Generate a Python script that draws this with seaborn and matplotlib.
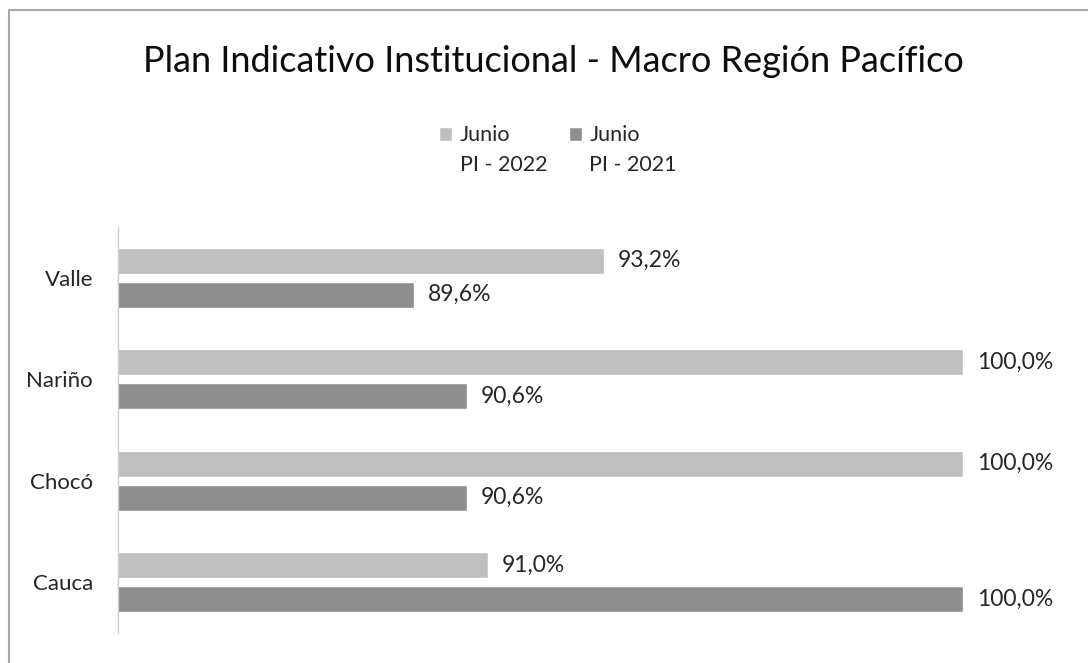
import numpy as np
import pandas as pd
import matplotlib.pyplot as plt
import seaborn as sns
from matplotlib.lines import Line2D

# data
regions = ["Valle", "Nariño", "Chocó", "Cauca"]
pi_2022 = [93.2, 100.0, 100.0, 91.0]
pi_2021 = [89.6, 90.6, 90.6, 100.0]
series_names = ["Junio\nPI - 2022", "Junio\nPI - 2021"]
series_colors = ["#BFBFBF", "#8E8E8E"]

df = pd.DataFrame({
    "region": regions * 2,
    "valor": pi_2022 + pi_2021,
    "serie": [series_names[0]] * len(regions) + [series_names[1]] * len(regions),
})

sns.set_theme(style="white")
plt.rcParams["font.family"] = ["Lato", "DejaVu Sans"]

fig = plt.figure(figsize=(10.88, 6.63), dpi=100)
ax = fig.add_axes([118 / 1088, 1 - 633 / 663, (963 - 118) / 1088, (633 - 227) / 663])

sns.barplot(
    data=df, y="region", x="valor", hue="serie", orient="h",
    hue_order=series_names, palette=series_colors,
    width=0.667, gap=0.235, ax=ax, errorbar=None, saturation=1,
)

ax.set_xlim(84, 100)
ax.set_ylim(3.5, -0.5)
ax.set_xlabel("")
ax.set_ylabel("")
ax.set_xticks([])
ax.tick_params(axis="y", length=0, pad=18, labelsize=16, labelcolor="#262626")
for side in ["top", "right", "bottom"]:
    ax.spines[side].set_visible(False)
ax.spines["left"].set_color("#CDCDCD")
ax.spines["left"].set_linewidth(1.0)

# value labels, comma decimals
for cont, vals in zip(ax.containers, [pi_2022, pi_2021]):
    labs = [f"{v:.1f}%".replace(".", ",") for v in vals]
    ax.bar_label(cont, labels=labs, padding=10, fontsize=16.5, color="#262626", clip_on=False)

# legend at the top
handles, labels = ax.get_legend_handles_labels()
ax.get_legend().remove()
leg = fig.legend(
    handles, labels, loc="center", bbox_to_anchor=(558 / 1088, 1 - 150 / 663),
    ncol=2, frameon=False, fontsize=15.5, handlelength=0.6, handleheight=0.6,
    handletextpad=0.35, columnspacing=1.0, labelcolor="#262626",
)
for t in leg.get_texts():
    t.set_linespacing(1.65)
# square next to the first line of each label
for p in leg.get_patches():
    p.set_y(p.get_y() + 12)

fig.text(553 / 1088, 1 - 61 / 663, "Plan Indicativo Institucional - Macro Región Pacífico",
         ha="center", va="center", fontsize=26, color="#0D0D0D")

# outer border of the chart area
bx, by = 8.5 / 1088, 1 - 9.5 / 663
fig.add_artist(Line2D([bx, bx], [0, by], transform=fig.transFigure, color="#A6A6A6", lw=1.5))
fig.add_artist(Line2D([bx, 1], [by, by], transform=fig.transFigure, color="#A6A6A6", lw=1.5))

fig.savefig("out.png", dpi=100)
